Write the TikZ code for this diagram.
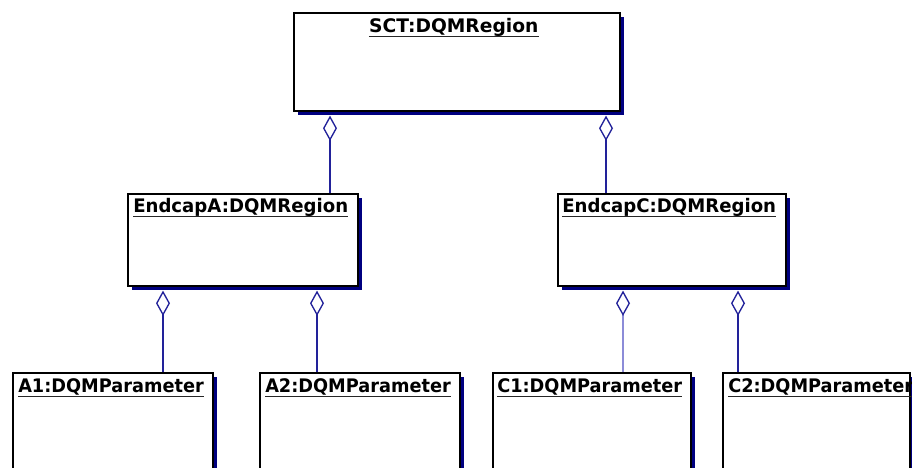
\documentclass[tikz,border=0pt]{standalone}
\usepackage{fontspec}
\setmainfont{DejaVu Sans}
\usetikzlibrary{shadows,arrows.meta,calc}
\definecolor{shadownavy}{HTML}{000080}
\definecolor{linknavy}{HTML}{22229A}
\definecolor{linklight}{HTML}{8C8CD8}
\tikzset{
  objbox/.style={draw=black, line width=1.2pt, fill=white, rectangle, inner sep=0pt, anchor=north west,
    general shadow={fill=shadownavy, shadow xshift=3pt, shadow yshift=-3pt}},
  objname/.style={inner sep=0pt, font=\bfseries\fontsize{14}{16}\selectfont},
  uline/.style={draw=black!85, line width=1.1pt},
  agg/.style={draw=linknavy, line width=1.1pt, -{Diamond[open, length=19pt, width=10.5pt, line width=1pt]}, shorten >=3pt},
  agglight/.style={draw=linklight, line width=0.8pt, -{Diamond[open, length=19pt, width=10.5pt, line width=1pt, color=linknavy]}, shorten >=3pt}
}
\begin{document}
\begin{tikzpicture}[x=0.75pt,y=-0.75pt]
\useasboundingbox (0,0) rectangle (912,467);
\clip (0,0) rectangle (912,467);
% boxes
\node[objbox, minimum width=326*0.75pt, minimum height=98*0.75pt] (sct) at (293,12) {};
\node[objbox, minimum width=230*0.75pt, minimum height=92*0.75pt] (endA) at (127,193) {};
\node[objbox, minimum width=228*0.75pt, minimum height=92*0.75pt] (endC) at (557,193) {};
\node[objbox, minimum width=200*0.75pt, minimum height=130*0.75pt] (a1) at (12,372) {};
\node[objbox, minimum width=200*0.75pt, minimum height=130*0.75pt] (a2) at (259,372) {};
\node[objbox, minimum width=198*0.75pt, minimum height=130*0.75pt] (c1) at (492,372) {};
\node[objbox, minimum width=187*0.75pt, minimum height=130*0.75pt] (c2) at (722,372) {};
% names
\node[objname, anchor=base] (sctT) at ($(sct.north)+(-3,20.5)$) {SCT:DQMRegion};
\node[objname, anchor=base west] (endAT) at ($(endA.north west)+(6,19.5)$) {\scalebox{0.97}[1]{EndcapA:DQMRegion}};
\node[objname, anchor=base west] (endCT) at ($(endC.north west)+(5,19.5)$) {\scalebox{0.97}[1]{EndcapC:DQMRegion}};
\node[objname, anchor=base west] (a1T) at ($(a1.north west)+(6,20.5)$) {\scalebox{0.95}[1]{A1:DQMParameter}};
\node[objname, anchor=base west] (a2T) at ($(a2.north west)+(6,20.5)$) {\scalebox{0.95}[1]{A2:DQMParameter}};
\node[objname, anchor=base west] (c1T) at ($(c1.north west)+(5,20.5)$) {\scalebox{0.95}[1]{C1:DQMParameter}};
\node[objname, anchor=base west] (c2T) at ($(c2.north west)+(6,20.5)$) {\scalebox{0.95}[1]{C2:DQMParameter}};
\foreach \t in {sctT,endAT,endCT,a1T,a2T,c1T,c2T}{
  \draw[uline] ($(\t.base west)+(0,4)$) -- ($(\t.base east)+(0,4)$);
}
% aggregation connectors
\path (endA.north west) ++(203,0) coordinate (pA);
\draw[agg] (pA) -- (pA |- sct.south);
\path (endC.north west) ++(49,0) coordinate (pC);
\draw[agg] (pC) -- (pC |- sct.south);
\path (a1.north west) ++(151,0) coordinate (p1);
\draw[agg] (p1) -- (p1 |- endA.south);
\path (a2.north west) ++(58,0) coordinate (p2);
\draw[agg] (p2) -- (p2 |- endA.south);
\path (c1.north west) ++(131,0) coordinate (p3);
\draw[agglight] (p3) -- (p3 |- endC.south);
\path (c2.north west) ++(16,0) coordinate (p4);
\draw[agg] (p4) -- (p4 |- endC.south);
\end{tikzpicture}
\end{document}
